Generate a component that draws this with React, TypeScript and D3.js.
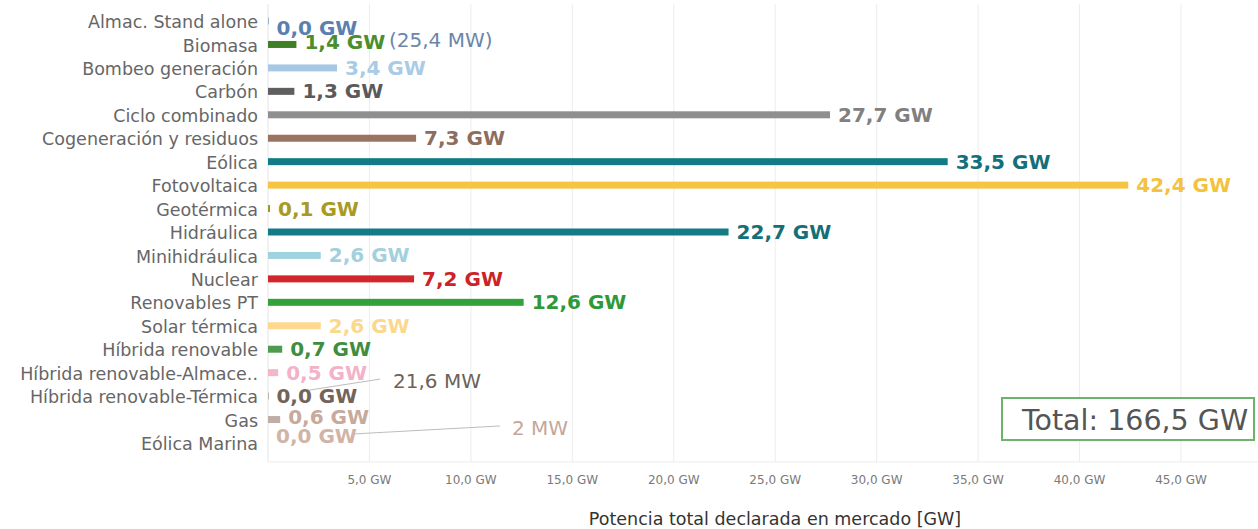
import { useEffect, useRef } from 'react';
import * as d3 from 'd3';

const categories = [
	'Almac. Stand alone',
	'Biomasa',
	'Bombeo generación',
	'Carbón',
	'Ciclo combinado',
	'Cogeneración y residuos',
	'Eólica',
	'Fotovoltaica',
	'Geotérmica',
	'Hidráulica',
	'Minihidráulica',
	'Nuclear',
	'Renovables PT',
	'Solar térmica',
	'Híbrida renovable',
	'Híbrida renovable-Almace..',
	'Híbrida renovable-Térmica',
	'Gas',
	'Eólica Marina',
];

// GW
const values = [0.0254, 1.4, 3.4, 1.3, 27.7, 7.3, 33.5, 42.4, 0.1, 22.7, 2.6, 7.2, 12.6, 2.6, 0.7, 0.5, 0.0216, 0.6, 0.002];

const barColors = [
	'#4e79a7', '#3f7f26', '#a6c8e4', '#5f5f5f', '#8f8f8f', '#9b7361', '#137b85', '#f6c443', '#a6961c', '#137b85',
	'#9fd3df', '#d1262b', '#33a23a', '#fcd98f', '#4f9a4f', '#f4b6cb', '#7d6b5e', '#bfaea6', '#d4b8ab',
];

const labelColors = [
	'#5a7fb0', '#4b8e2c', '#a9cbe6', '#5a5a5a', '#808080', '#8e6d5e', '#156f7a', '#f3c23e', '#a89a22', '#156f7a',
	'#a3d0dc', '#cc2229', '#2e9a37', '#fad88c', '#3f8e3f', '#f2b3c8', '#73645a', '#c7aa9c', '#d1b4a6',
];

const ticks = [5, 10, 15, 20, 25, 30, 35, 40, 45];

// small notes written next to the tiny bars
const notes = [
	{ cat: 'Almac. Stand alone', text: '(25,4 MW)' },
	{ cat: 'Híbrida renovable-Térmica', text: '21,6 MW' },
	{ cat: 'Eólica Marina', text: '2 MW' },
];

const totalText = 'Total: 166,5 GW';
const axisTitle = 'Potencia total declarada en mercado [GW]';

const FONT = '"DejaVu Sans", sans-serif';
const fmt = (v: number) => d3.format('.1f')(v).replace('.', ',') + ' GW';

const App = () => {
	const ref = useRef<SVGSVGElement>(null);

	useEffect(() => {
		const width = 1258,
			height = 529;
		const svg = d3.select(ref.current).attr('width', width).attr('height', height);
		svg.selectAll('*').remove();

		const data = categories.map((c, i) => ({ cat: c, value: values[i], color: barColors[i], lc: labelColors[i] }));

		const x = d3.scaleLinear().domain([0, 45]).range([268, 1181]);
		const y = d3.scaleBand().domain(categories).range([9.3, 454.7]).padding(0);
		const cy = (c: string) => (y(c) as number) + y.bandwidth() / 2;

		// grid
		svg
			.append('g')
			.selectAll('line')
			.data(ticks)
			.join('line')
			.attr('x1', (d) => x(d))
			.attr('x2', (d) => x(d))
			.attr('y1', 4)
			.attr('y2', 462)
			.attr('stroke', '#ededed')
			.attr('stroke-width', 1);

		svg
			.append('line')
			.attr('x1', x(0))
			.attr('x2', x(0))
			.attr('y1', 4)
			.attr('y2', 462)
			.attr('stroke', '#e4e4e4');

		svg
			.append('line')
			.attr('x1', x(0))
			.attr('x2', 1258)
			.attr('y1', 462)
			.attr('y2', 462)
			.attr('stroke', '#ededed');

		// x axis labels
		svg
			.append('g')
			.selectAll('text')
			.data(ticks)
			.join('text')
			.attr('x', (d) => x(d))
			.attr('y', 480)
			.attr('dy', '0.35em')
			.attr('text-anchor', 'middle')
			.style('font-family', FONT)
			.style('font-size', '12px')
			.attr('fill', '#7a7a7a')
			.text((d) => d3.format('.1f')(d).replace('.', ',') + ' GW');

		svg
			.append('text')
			.attr('x', 775)
			.attr('y', 519)
			.attr('dy', '0.35em')
			.attr('text-anchor', 'middle')
			.style('font-family', FONT)
			.style('font-size', '17.5px')
			.attr('fill', '#333')
			.text(axisTitle);

		// category labels
		svg
			.append('g')
			.selectAll('text')
			.data(data)
			.join('text')
			.attr('x', 258)
			.attr('y', (d) => cy(d.cat) + 1)
			.attr('dy', '0.35em')
			.attr('text-anchor', 'end')
			.style('font-family', FONT)
			.style('font-size', '17.5px')
			.attr('fill', '#666')
			.text((d) => d.cat);

		// bars
		svg
			.append('g')
			.selectAll('rect')
			.data(data)
			.join('rect')
			.attr('x', x(0))
			.attr('y', (d) => cy(d.cat) - 3.5)
			.attr('width', (d) => x(d.value) - x(0))
			.attr('height', 7)
			.attr('fill', (d) => d.color);

		// annotation lines
		const lineColor = '#bdbdbd';
		svg
			.append('line')
			.attr('x1', x(0) + 35)
			.attr('y1', cy('Híbrida renovable-Térmica') - 5)
			.attr('x2', x(0) + 112)
			.attr('y2', cy('Híbrida renovable-Térmica') - 17)
			.attr('stroke', lineColor);
		svg
			.append('line')
			.attr('x1', x(0) + 85)
			.attr('y1', cy('Eólica Marina') - 9)
			.attr('x2', x(0) + 232)
			.attr('y2', cy('Eólica Marina') - 17)
			.attr('stroke', lineColor);

		// value labels
		const shift: Record<string, number> = { 'Almac. Stand alone': 7, Biomasa: -2, Gas: -3, 'Eólica Marina': -7 };
		svg
			.append('g')
			.selectAll('text')
			.data(data)
			.join('text')
			.attr('x', (d) => x(d.value) + 8)
			.attr('y', (d) => cy(d.cat) + (shift[d.cat] || 0))
			.attr('dy', '0.35em')
			.style('font-family', FONT)
			.style('font-size', '20px')
			.style('font-weight', 'bold')
			.attr('fill', (d) => d.lc)
			.text((d) => fmt(d.value));

		// notes
		const noteX = [x(0) + 121, x(0) + 125, x(0) + 244];
		const noteDy = [-5, -15, -15];
		const noteColor = ['#6a86aa', '#6d625a', '#c4a79a'];
		svg
			.append('g')
			.selectAll('text')
			.data(notes)
			.join('text')
			.attr('x', (d, i) => noteX[i])
			.attr('y', (d, i) => cy(d.cat) + noteDy[i] + (i === 0 ? 24 : 0))
			.attr('dy', '0.35em')
			.style('font-family', FONT)
			.style('font-size', '20px')
			.attr('fill', (d, i) => noteColor[i])
			.text((d) => d.text);

		// total box
		svg
			.append('rect')
			.attr('x', 1002)
			.attr('y', 398)
			.attr('width', 252)
			.attr('height', 42)
			.attr('fill', '#fff')
			.attr('stroke', '#6cb46c')
			.attr('stroke-width', 2);
		svg
			.append('text')
			.attr('x', 1135)
			.attr('y', 420)
			.attr('dy', '0.35em')
			.attr('text-anchor', 'middle')
			.style('font-family', FONT)
			.style('font-size', '28.5px')
			.attr('fill', '#555')
			.text(totalText);
	}, []);

	return <svg ref={ref} style={{ position: 'absolute', left: 0, top: 0 }} width={1258} height={529}></svg>;
};

export default App;
